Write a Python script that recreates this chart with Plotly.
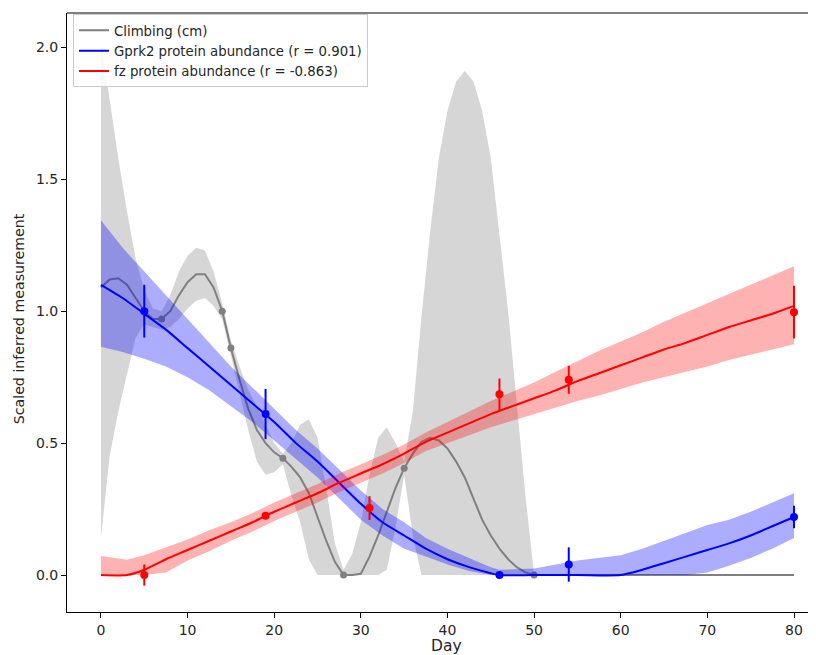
import plotly.graph_objects as go

# ---------------- data ----------------
# Climbing (cm): GP mean and band on a daily grid
climb_days = list(range(0, 51)) + [55, 60, 65, 70, 75, 80]
climb_mean = [1.09, 1.12, 1.125, 1.10, 1.05, 1.0, 0.97, 0.97, 1.0, 1.06,
              1.11, 1.14, 1.14, 1.09, 1.0, 0.86, 0.74, 0.63, 0.55, 0.50,
              0.465, 0.443, 0.41, 0.37, 0.31, 0.22, 0.13, 0.05, 0.0, 0.0,
              0.005, 0.07, 0.15, 0.24, 0.33, 0.405, 0.46, 0.505, 0.52, 0.51,
              0.48, 0.43, 0.37, 0.29, 0.21, 0.15, 0.10, 0.06, 0.03, 0.01,
              0.0, 0.0, 0.0, 0.0, 0.0, 0.0, 0.0]
climb_upper = [2.026, 1.80, 1.58, 1.38, 1.20, 1.08, 1.01, 1.0, 1.06, 1.15,
               1.21, 1.24, 1.23, 1.15, 1.03, 0.89, 0.79, 0.70, 0.64, 0.57,
               0.50, 0.46, 0.50, 0.57, 0.59, 0.52, 0.33, 0.12, 0.02, 0.08,
               0.20, 0.38, 0.52, 0.56, 0.50, 0.43, 0.62, 0.98, 1.30, 1.58,
               1.76, 1.87, 1.91, 1.87, 1.76, 1.58, 1.30, 1.0, 0.65, 0.30,
               0.0, 0.0, 0.0, 0.0, 0.0, 0.0, 0.0]
climb_lower = [0.14, 0.45, 0.62, 0.76, 0.90, 0.95, 0.94, 0.93, 0.94, 0.97,
               1.01, 1.04, 1.05, 1.02, 0.97, 0.83, 0.69, 0.55, 0.43, 0.38,
               0.39, 0.42, 0.30, 0.20, 0.06, 0.0, 0.0, 0.0, 0.0, 0.0,
               0.0, 0.0, 0.0, 0.02, 0.18, 0.38, 0.15, 0.0, 0.0, 0.0,
               0.0, 0.0, 0.0, 0.0, 0.0, 0.0, 0.0, 0.0, 0.0, 0.0,
               0.0, 0.0, 0.0, 0.0, 0.0, 0.0, 0.0]
climb_obs_days = [7, 14, 15, 21, 28, 35, 50]
climb_obs_vals = [0.97, 1.0, 0.86, 0.443, 0.0, 0.405, 0.0]

# Gprk2 protein abundance
gprk_days = [0, 2.5, 5, 7.5, 10, 12.5, 15, 17.5, 20, 22.5, 25, 27.5, 30,
             32.5, 35, 37.5, 40, 42.5, 45, 46, 50, 55, 60, 62.5, 65, 67.5,
             70, 72.5, 75, 77.5, 80]
gprk_mean = [1.10, 1.05, 0.99, 0.93, 0.86, 0.79, 0.72, 0.65, 0.58, 0.50,
             0.43, 0.35, 0.27, 0.20, 0.15, 0.10, 0.06, 0.03, 0.007, 0.0,
             0.0, 0.0, 0.0, 0.02, 0.045, 0.07, 0.095, 0.12, 0.15, 0.185, 0.22]
gprk_upper = [1.345, 1.24, 1.15, 1.06, 0.97, 0.88, 0.79, 0.71, 0.63, 0.55,
              0.48, 0.40, 0.32, 0.25, 0.20, 0.14, 0.10, 0.065, 0.03, 0.02,
              0.025, 0.055, 0.075, 0.10, 0.13, 0.16, 0.19, 0.21, 0.24, 0.275, 0.31]
gprk_lower = [0.865, 0.845, 0.82, 0.79, 0.75, 0.70, 0.64, 0.58, 0.51, 0.44,
              0.37, 0.29, 0.21, 0.15, 0.10, 0.07, 0.04, 0.015, 0.0, 0.0,
              0.0, 0.0, 0.0, 0.0, 0.0, 0.0, 0.01, 0.035, 0.065, 0.10, 0.14]
gprk_obs_days = [5, 19, 46, 54, 80]
gprk_obs_vals = [1.0, 0.61, 0.0, 0.04, 0.22]
gprk_obs_err = [0.10, 0.095, 0.0, 0.065, 0.043]

# fz protein abundance
fz_days = [0, 3, 5, 7.5, 10, 12.5, 15, 17.5, 20, 22.5, 25, 27.5, 30, 32.5,
           35, 37.5, 40, 42.5, 45, 47.5, 50, 52.5, 55, 57.5, 60, 62.5, 65,
           67.5, 70, 72.5, 75, 77.5, 80]
fz_mean = [0.0, 0.0, 0.02, 0.06, 0.095, 0.13, 0.165, 0.20, 0.24, 0.275,
           0.31, 0.35, 0.385, 0.42, 0.46, 0.505, 0.54, 0.575, 0.61, 0.64,
           0.67, 0.70, 0.735, 0.765, 0.795, 0.825, 0.855, 0.88, 0.91, 0.94,
           0.965, 0.99, 1.02]
fz_upper = [0.072, 0.058, 0.075, 0.105, 0.135, 0.17, 0.20, 0.235, 0.275, 0.31,
            0.345, 0.385, 0.42, 0.455, 0.495, 0.54, 0.58, 0.62, 0.66, 0.695,
            0.73, 0.77, 0.81, 0.85, 0.885, 0.92, 0.96, 0.995, 1.03, 1.065,
            1.10, 1.135, 1.17]
fz_lower = [0.0, 0.0, 0.0, 0.01, 0.055, 0.09, 0.13, 0.165, 0.205, 0.24,
            0.275, 0.315, 0.35, 0.385, 0.425, 0.47, 0.50, 0.53, 0.56, 0.585,
            0.61, 0.635, 0.66, 0.68, 0.705, 0.73, 0.75, 0.77, 0.79, 0.815,
            0.835, 0.855, 0.875]
fz_obs_days = [5, 19, 31, 46, 54, 80]
fz_obs_vals = [0.0, 0.225, 0.254, 0.685, 0.74, 0.996]
fz_obs_err = [0.04, 0.0, 0.045, 0.06, 0.053, 0.10]

legend_names = ["Climbing (cm)",
                "Gprk2 protein abundance (r = 0.901)",
                "fz protein abundance (r = -0.863)"]
x_ticks = [0, 10, 20, 30, 40, 50, 60, 70, 80]
y_ticks = [0.0, 0.5, 1.0, 1.5, 2.0]
x_title = "Day"
y_title = "Scaled inferred measurement"

# ---------------- figure ----------------
fig = go.Figure()


def add_series(days, mean, upper, lower, od, ov, oe, color, band, name,
               msize, shape):
    fig.add_trace(go.Scatter(
        x=list(days) + list(days)[::-1],
        y=list(upper) + list(lower)[::-1],
        fill="toself", fillcolor=band, line=dict(width=0),
        mode="lines", hoverinfo="skip", showlegend=False))
    line = dict(color=color, width=2, shape=shape)
    if shape == "spline":
        line["smoothing"] = 0.6
    fig.add_trace(go.Scatter(x=days, y=mean, mode="lines", name=name,
                             line=line))
    err = None
    if oe is not None:
        err = dict(type="data", array=oe, visible=True, color=color,
                   thickness=2, width=0)
    fig.add_trace(go.Scatter(
        x=od, y=ov, mode="markers", showlegend=False,
        marker=dict(color=color, size=msize), error_y=err))


add_series(climb_days, climb_mean, climb_upper, climb_lower,
           climb_obs_days, climb_obs_vals, None,
           "#808080", "rgba(128,128,128,0.32)", legend_names[0], 7, "linear")
add_series(gprk_days, gprk_mean, gprk_upper, gprk_lower,
           gprk_obs_days, gprk_obs_vals, gprk_obs_err,
           "#0000ff", "rgba(0,0,255,0.32)", legend_names[1], 8, "spline")
add_series(fz_days, fz_mean, fz_upper, fz_lower,
           fz_obs_days, fz_obs_vals, fz_obs_err,
           "#ff0000", "rgba(255,0,0,0.3)", legend_names[2], 8, "spline")

# the page has an 8px body margin; the plot area spans page x 67..816
# (cropped on the right, as in the reference) and y 13..612
fig.update_layout(
    width=808, height=647,
    margin=dict(l=59, r=0, t=5, b=43),
    paper_bgcolor="white", plot_bgcolor="white",
    font=dict(family="DejaVu Sans", size=13, color="#262626"),
    showlegend=True,
    legend=dict(x=0.008, y=0.998, xanchor="left", yanchor="top",
                bgcolor="rgba(255,255,255,0.85)", bordercolor="#cccccc",
                borderwidth=1, font=dict(size=13.3, color="#262626"),
                itemwidth=30, tracegroupgap=0),
    xaxis=dict(range=[-3.92, 82.54], tickvals=x_ticks, automargin=False,
               showgrid=False, zeroline=False,
               showline=True, mirror=False, linecolor="#000000", linewidth=1,
               ticks="outside", ticklen=5, tickcolor="#000000",
               tickfont=dict(size=14)),
    yaxis=dict(range=[-0.14, 2.13], tickvals=y_ticks, tickformat=".1f",
               automargin=False,
               showgrid=False, zeroline=False,
               showline=True, mirror=False, linecolor="#000000", linewidth=1,
               ticks="outside", ticklen=5, tickcolor="#000000",
               tickfont=dict(size=14)),
    shapes=[dict(type="line", xref="paper", yref="paper", x0=0, x1=1,
                 y0=1, y1=1, line=dict(color="#000000", width=1))],
    annotations=[
        dict(text=x_title, xref="paper", yref="paper", x=0.507, y=-0.057,
             xanchor="center", yanchor="middle", showarrow=False,
             font=dict(size=15.5, color="#262626")),
        dict(text=y_title, xref="paper", yref="paper", x=-0.063, y=0.49,
             xanchor="center", yanchor="middle", showarrow=False,
             textangle=-90, font=dict(size=14.2, color="#262626")),
    ],
)

fig.write_html("out.html")
